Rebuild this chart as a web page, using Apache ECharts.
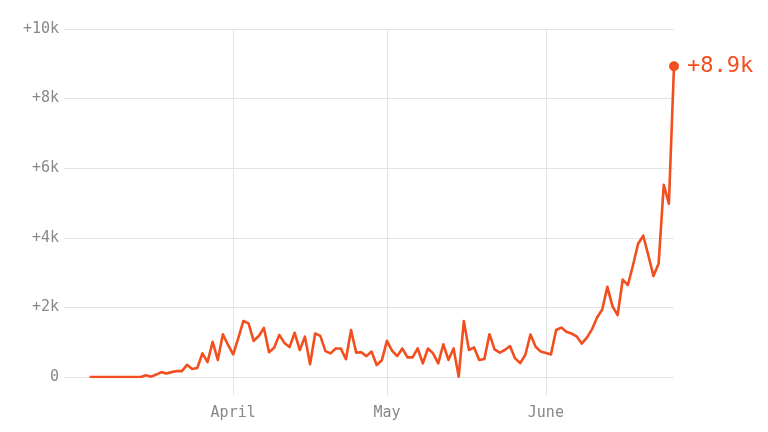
<!DOCTYPE html>
<html>
<head>
<meta charset="utf-8">
<script src="https://cdn.jsdelivr.net/npm/echarts@6/dist/echarts.min.js"></script>
<style>
html,body{margin:0;padding:0;background:#fff;}
#chart{width:768px;height:432px;}
</style>
</head>
<body>
<div id="chart"></div>
<script>
// Daily values, one per day starting 2020-03-04
const startDate = '2020-03-04';
const dailyValues = [
  0,0,0,0,0,0,0,0,0,0,0,
  50,10,70,140,100,140,170,170,350,230,
  260,680,430,1010,490,1230,920,650,1120,1610,
  1540,1040,1180,1410,710,840,1210,980,860,1270,
  775,1160,365,1250,1180,745,680,820,820,510,
  1350,700,710,600,730,345,480,1040,755,600,
  820,565,565,820,390,820,680,390,940,490,
  820,10,1610,775,850,490,520,1230,795,700,
  775,890,535,400,640,1220,870,730,690,650,
  1350,1420,1300,1250,1170,960,1130,1370,1710,1940,
  2590,2030,1780,2800,2640,3210,3830,4060,3490,2900,
  3260,5520,4980,8930
];
const xMin = '2020-02-28';
const xMax = '2020-06-26';
const monthTicks = ['2020-04-01', '2020-05-01', '2020-06-01'];
const monthLabels = ['April', 'May', 'June'];
const yTicks = [0, 2000, 4000, 6000, 8000, 10000];
const endLabelText = '+8.9k';

const DAY = 86400000;
function toTime(s) {
  const p = s.split('-').map(Number);
  return Date.UTC(p[0], p[1] - 1, p[2]);
}
const t0 = toTime(startDate);
const seriesData = dailyValues.map((v, i) => [t0 + i * DAY, v]);
const lastPoint = seriesData[seriesData.length - 1];
const monthTickTimes = monthTicks.map(toTime);

const FONT = '"DejaVu Sans Mono", "Liberation Mono", monospace';
const LINE = '#f24e1e';
const GRID = '#e3e3e3';

const chart = echarts.init(document.getElementById('chart'), null, {renderer: 'canvas'});
chart.setOption({
  animation: false,
  backgroundColor: '#ffffff',
  grid: {left: 64, right: 94, top: 29, bottom: 55, containLabel: false},
  xAxis: {
    type: 'value',
    min: toTime(xMin),
    max: toTime(xMax),
    axisLine: {show: false},
    axisTick: {show: true, customValues: monthTickTimes, length: 18, lineStyle: {color: GRID, width: 1}},
    splitLine: {show: true, customValues: monthTickTimes, lineStyle: {color: GRID, width: 1}},
    axisLabel: {
      show: true,
      customValues: monthTickTimes,
      margin: 29,
      color: '#888888',
      fontFamily: FONT,
      fontSize: 15,
      formatter: function (val) {
        const k = monthTickTimes.indexOf(val);
        return k >= 0 ? monthLabels[k] : '';
      }
    }
  },
  yAxis: {
    type: 'value',
    min: yTicks[0],
    max: yTicks[yTicks.length - 1],
    interval: 2000,
    axisLine: {show: false},
    axisTick: {show: false},
    splitLine: {show: true, lineStyle: {color: GRID, width: 1}},
    axisLabel: {
      margin: 5,
      color: '#888888',
      fontFamily: FONT,
      fontSize: 15,
      formatter: function (v) { return v === 0 ? '0' : '+' + (v / 1000) + 'k'; }
    }
  },
  series: [
    {
      type: 'line',
      data: seriesData,
      showSymbol: false,
      symbol: 'none',
      lineStyle: {color: LINE, width: 2.6, join: 'round'},
      z: 3
    },
    {
      type: 'scatter',
      data: [lastPoint],
      symbol: 'circle',
      symbolSize: 10,
      itemStyle: {color: LINE, opacity: 1},
      label: {
        show: true,
        position: 'right',
        distance: 8,
        formatter: endLabelText,
        color: LINE,
        opacity: 1,
        fontFamily: FONT,
        fontSize: 22
      },
      z: 4
    }
  ]
});
</script>
</body>
</html>
